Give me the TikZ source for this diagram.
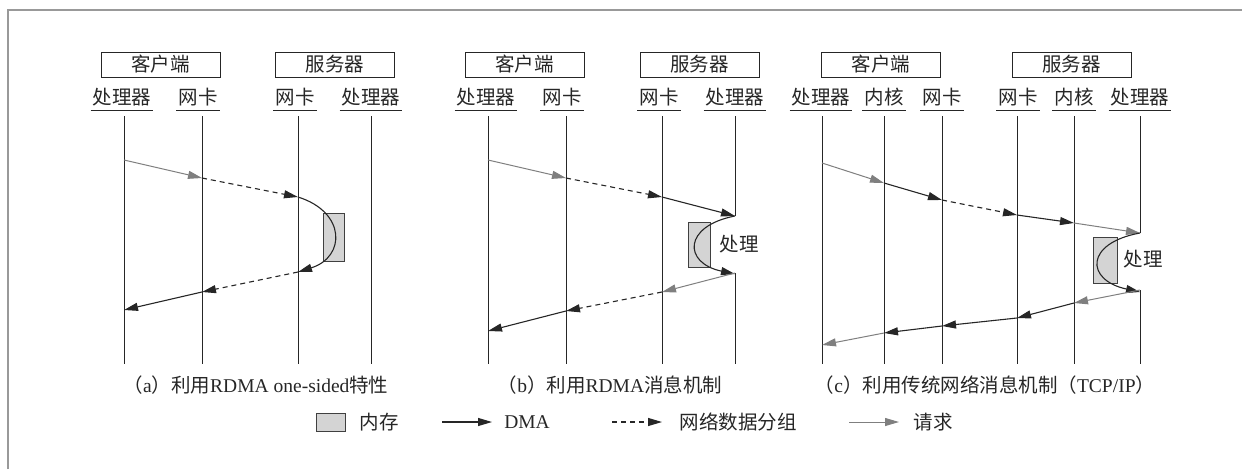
\documentclass[tikz,border=0pt]{standalone}
\usepackage{fontspec}
\setmainfont{Liberation Serif}
\newfontfamily\cjk{Noto Sans CJK SC}
\usetikzlibrary{arrows.meta}
\definecolor{reqgray}{HTML}{7F7F7F}
\definecolor{memfill}{HTML}{D4D4D4}
\definecolor{linec}{HTML}{262626}
\tikzset{
  lbl/.style={font=\fontsize{19.5}{19.5}\selectfont\cjk, inner sep=0pt, text=black!85},
  txt/.style={font=\fontsize{19.5}{19.5}\selectfont, inner sep=0pt, text=black!85},
  hostbox/.style={draw=linec, line width=1pt, minimum width=119pt, minimum height=25pt, inner sep=0pt, font=\fontsize{19.5}{19.5}\selectfont\cjk, text=black!85},
  uline/.style={draw=linec, line width=1pt},
  life/.style={draw=linec, line width=1pt},
  dmaarr/.style={draw=linec, line width=1.1pt, -{Triangle[length=14pt,width=8pt]}},
  netarr/.style={draw=linec, line width=1.1pt, dash pattern=on 5pt off 4pt, -{Triangle[length=14pt,width=8pt]}},
  reqarr/.style={draw=reqgray, line width=1pt, -{Triangle[length=14pt,width=8pt]}},
  mem/.style={draw=black!75, fill=memfill, line width=1pt},
  frameline/.style={draw=black!40, line width=1.5pt}
}
\newcommand\lanelabel[3]{%
  \node[lbl] (#1) at (#2,97) {#3};
  \draw[uline] ([xshift=-2pt]#1.west |- 0,110) -- ([xshift=2pt]#1.east |- 0,110);
}
\begin{document}
\begin{tikzpicture}[x=1pt,y=-1pt]
\useasboundingbox (0,0) rectangle (1242,469);
\draw[frameline] (8,469) -- (8,10) -- (1242,10);

% ---------------- panel (a)
\node[hostbox] (ca) at (160.5,64.5) {客户端};
\node[hostbox] (sa) at (335,64.5) {服务器};
\lanelabel{la1}{122}{处理器}
\lanelabel{la2}{198}{网卡}
\lanelabel{la3}{295}{网卡}
\lanelabel{la4}{371}{处理器}
\foreach \n/\x in {a1/124,a2/202,a3/298,a4/371}{
  \coordinate (\n t) at (\x,116); \coordinate (\n b) at (\x,364);
  \draw[life] (\n t) -- (\n b);
}
\coordinate (ae1) at (124,160);
\coordinate (ae2) at (202,178);
\coordinate (ae3) at (298,197);
\coordinate (ae4) at (298,272);
\coordinate (ae5) at (202,292);
\coordinate (ae6) at (124,310);
\draw[mem] (323,213) rectangle (344,261);
\draw[reqarr] (ae1) -- (ae2);
\draw[netarr] (ae2) -- (ae3);
\draw[dmaarr] (ae3) .. controls (346,212) and (346,257) .. (ae4);
\draw[netarr] (ae4) -- (ae5);
\draw[dmaarr] (ae5) -- (ae6);
\node[txt] (capa) at (256,385) {{\cjk （}a{\cjk ）利用}RDMA one-sided{\cjk 特性}};

% ---------------- panel (b)
\node[hostbox] (cb) at (524.5,64.5) {客户端};
\node[hostbox] (sb) at (699.5,64.5) {服务器};
\lanelabel{lb1}{486}{处理器}
\lanelabel{lb2}{562}{网卡}
\lanelabel{lb3}{659}{网卡}
\lanelabel{lb4}{735}{处理器}
\foreach \n/\x in {b1/488,b2/566,b3/662}{
  \coordinate (\n t) at (\x,116); \coordinate (\n b) at (\x,364);
  \draw[life] (\n t) -- (\n b);
}
\coordinate (b4t) at (735,116); \coordinate (b4b) at (735,364);
\coordinate (be1) at (488,160);
\coordinate (be2) at (566,178);
\coordinate (be3) at (662,197);
\coordinate (be4) at (735,216);
\coordinate (be5) at (735,273);
\coordinate (be6) at (662,292);
\coordinate (be7) at (566,311);
\coordinate (be8) at (488,331);
\draw[life] (b4t) -- (be4);
\draw[life] (be5) -- (b4b);
\draw[mem] (688,222) rectangle (710,267);
\draw[reqarr] (be1) -- (be2);
\draw[netarr] (be2) -- (be3);
\draw[dmaarr] (be3) -- (be4);
\draw[dmaarr] (be4) .. controls (683,226) and (683,263) .. ([yshift=-1pt]be5);
\node[lbl] (procb) at (739,244) {处理};
\draw[reqarr] (be5) -- (be6);
\draw[netarr] (be6) -- (be7);
\draw[dmaarr] (be7) -- (be8);
\node[txt] (capb) at (610,385) {{\cjk （}b{\cjk ）利用}RDMA{\cjk 消息机制}};

% ---------------- panel (c)
\node[hostbox] (cc) at (881,64.5) {客户端};
\node[hostbox] (sc) at (1071.5,64.5) {服务器};
\lanelabel{lc1}{821}{处理器}
\lanelabel{lc2}{884}{内核}
\lanelabel{lc3}{942}{网卡}
\lanelabel{lc4}{1018}{网卡}
\lanelabel{lc5}{1074}{内核}
\lanelabel{lc6}{1140}{处理器}
\foreach \n/\x in {c1/822,c2/884,c3/942,c4/1017,c5/1074}{
  \coordinate (\n t) at (\x,116); \coordinate (\n b) at (\x,364);
  \draw[life] (\n t) -- (\n b);
}
\coordinate (c6t) at (1140,116); \coordinate (c6b) at (1140,364);
\coordinate (ce1) at (822,163);
\coordinate (ce2) at (884,183);
\coordinate (ce3) at (942,200);
\coordinate (ce4) at (1017,215);
\coordinate (ce5) at (1074,223);
\coordinate (ce6) at (1140,233);
\coordinate (ce7) at (1140,290);
\coordinate (ce8) at (1074,303);
\coordinate (ce9) at (1017,318);
\coordinate (ce10) at (942,326);
\coordinate (ce11) at (884,333);
\coordinate (ce12) at (822,345);
\draw[life] (c6t) -- (ce6);
\draw[life] (ce7) -- (c6b);
\draw[mem] (1093,237) rectangle (1117,283);
\draw[reqarr] (ce1) -- (ce2);
\draw[dmaarr] (ce2) -- (ce3);
\draw[netarr] (ce3) -- (ce4);
\draw[dmaarr] (ce4) -- (ce5);
\draw[reqarr] (ce5) -- (ce6);
\draw[dmaarr] (ce6) .. controls (1085,243) and (1085,280) .. ([yshift=-2pt]ce7);
\node[lbl] (procc) at (1143,259) {处理};
\draw[reqarr] (ce7) -- (ce8);
\draw[dmaarr] (ce8) -- (ce9);
\draw[dmaarr] (ce9) -- (ce10);
\draw[dmaarr] (ce10) -- (ce11);
\draw[reqarr] (ce11) -- (ce12);
\node[txt] (capc) at (985,385) {{\cjk （}c{\cjk ）利用传统网络消息机制（}TCP/IP{\cjk ）}};

% ---------------- legend
\draw[mem] (316,413) rectangle (345,431);
\node[lbl] (lgmem) at (379,422) {内存};
\coordinate (lgd1) at (442,422); \coordinate (lgd2) at (492,422);
\draw[dmaarr] (lgd1) -- (lgd2);
\node[txt] (lgdma) at (527,422) {DMA};
\coordinate (lgn1) at (612,422); \coordinate (lgn2) at (662,422);
\draw[netarr] (lgn1) -- (lgn2);
\node[lbl] (lgnet) at (738,422) {网络数据分组};
\coordinate (lgr1) at (849,422); \coordinate (lgr2) at (899,422);
\draw[reqarr] (lgr1) -- (lgr2);
\node[lbl] (lgreq) at (933,422) {请求};
\end{tikzpicture}
\end{document}
